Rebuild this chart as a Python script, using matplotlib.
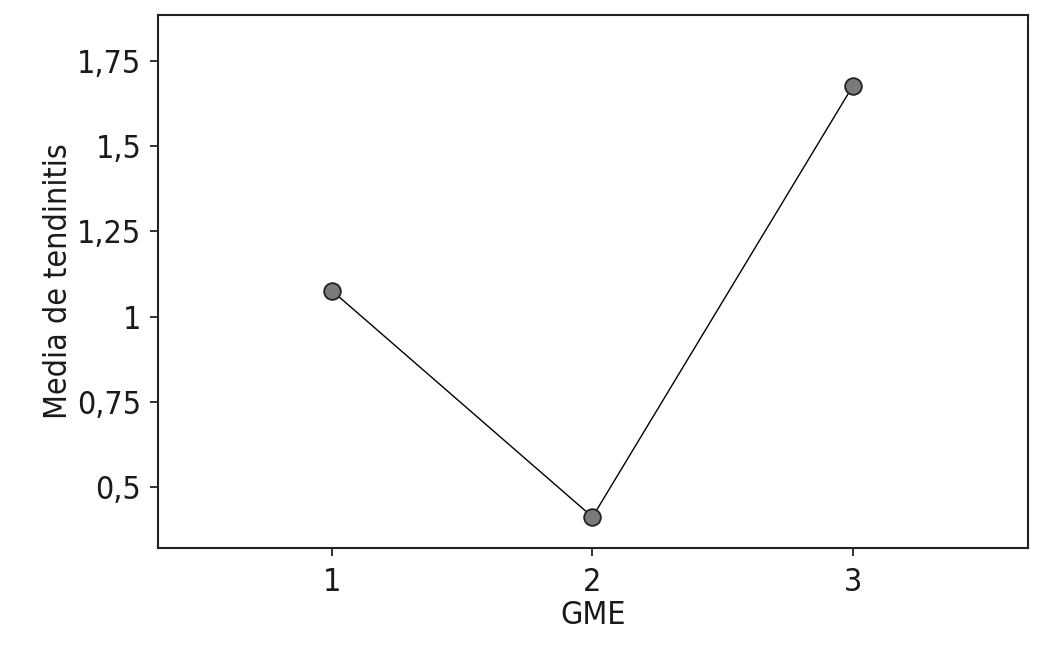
import matplotlib
matplotlib.use("Agg")
import matplotlib.pyplot as plt
from matplotlib.ticker import FuncFormatter

# datos: media de tendinitis por GME
gme = [1, 2, 3]
media = [1.076, 0.412, 1.677]
yticks = [0.5, 0.75, 1.0, 1.25, 1.5, 1.75]

plt.rcParams['font.family'] = ['DejaVu Sans']
plt.rcParams['font.stretch'] = 'condensed'

fig = plt.figure(figsize=(10.54, 6.45), dpi=100)
ax = fig.add_axes([0.1499, 0.1504, 0.8254, 0.8263])

ax.plot(gme, media, color='black', lw=1.0, marker='o', ms=12,
        mfc='#7a7a7a', mec='#222222', mew=1.3)

ax.set_xlim(0.332, 3.672)
ax.set_ylim(0.321, 1.885)
ax.set_xticks(gme)
ax.set_yticks(yticks)

def coma(v, pos):
    s = ('%.2f' % v).rstrip('0').rstrip('.')
    return s.replace('.', ',')

ax.yaxis.set_major_formatter(FuncFormatter(coma))
ax.tick_params(direction='out', length=6, width=1.3, labelsize=23, color='#222222',
               labelcolor='#1a1a1a')
ax.tick_params(axis='x', pad=8)
ax.tick_params(axis='y', pad=6)
for s in ax.spines.values():
    s.set_linewidth(1.5)
    s.set_color('#222222')

ax.set_xlabel('GME', fontsize=23, labelpad=1, color='#1a1a1a')
ax.set_ylabel('Media de tendinitis', fontsize=23, labelpad=2, color='#1a1a1a')

fig.savefig('out.png', dpi=100)
